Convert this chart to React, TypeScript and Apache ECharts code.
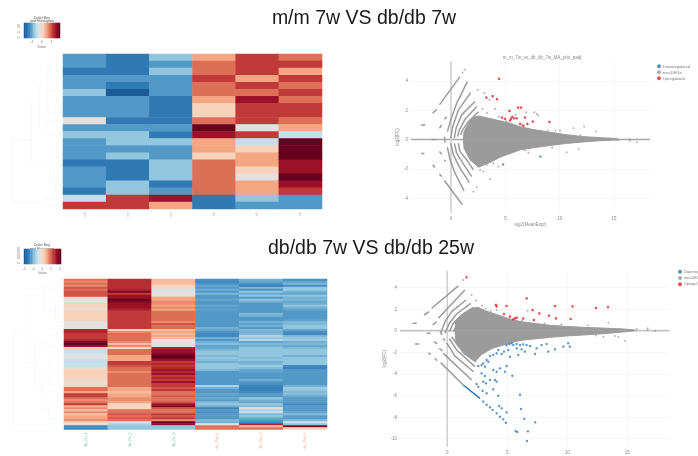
import React, { useEffect, useRef } from "react";
import * as echarts from "echarts";

const palette = ["#1c5a99", "#2f79b5", "#5299c7", "#92c5de", "#c5deec", "#e3e1df", "#f9d2bb", "#f4a582", "#de6f57", "#c13a3a", "#9c1127", "#67001f"];
const keyValues = [0, 0.5, 1, 1.5, 2, 2.5, 3, 3.5, 4, 4.5, 5, 5.5, 6, 6.5, 7, 7.5, 8, 8.5, 9, 9.5, 10, 10.5, 11];

const heat1Samples = ["m1", "m2", "m3", "d1", "d2", "d3"];
const heat1Columns = [
  [2, 2, 1, 2, 2, 3, 2, 2, 2, 5, 2, 3, 2, 2, 2, 1, 2, 2, 2, 1, 4, 9],
  [1, 1, 1, 2, 1, 0, 2, 2, 2, 1, 2, 3, 3, 2, 3, 1, 1, 1, 3, 3, 9, 9],
  [3, 2, 3, 2, 2, 2, 1, 1, 1, 1, 2, 1, 3, 2, 2, 3, 3, 3, 1, 2, 10, 7],
  [7, 8, 8, 9, 8, 8, 7, 6, 6, 8, 11, 10, 7, 7, 6, 8, 8, 8, 8, 8, 1, 1],
  [9, 9, 9, 7, 9, 8, 10, 9, 9, 9, 5, 9, 4, 6, 7, 7, 6, 5, 7, 7, 3, 2],
  [8, 9, 7, 9, 8, 9, 8, 9, 9, 8, 7, 4, 11, 11, 11, 10, 10, 11, 10, 9, 2, 2],
];

const heat2Samples = ["db_7w_1", "db_7w_2", "db_7w_3", "db_25w_1", "db_25w_2", "db_25w_3"];
const heat2Columns = [
  [8,7.5,8,7.5,8.5,8,8.5,8.5,8.5,5.5, 5,5,6,6,5.5,5.5,6,6,6,6, 6,5,5,5,5,9.5,9.5,9,9,9, 9.5,10.5,11,10,6,4,4,4.5,5,5, 4,4,4,4,5.5,6,6,6,6,6, 5.5,5.5,5.5,6,8,8,7,9,9,8, 7.5,8,9,7,7.5,6.5,7.5,6.5,7,7, 7.5,6,5,1.5,1.5],
  [9.3,9.3,9.3,9.3,9.3,9.5,10.5,9,10,10, 11,10.5,10,10,10,9.5,9,9,9,9, 9,9,9,9,9,6,7.5,8,8,8, 8,7.5,6.5,7.5,5.5,8,8,8,7,7, 7,9,9,8.5,8,8,7.5,8,8,8, 8,8,8,8,7,7,6.5,7,7,7.5, 7.5,7,6,6,6,8,8,8.5,8,8.5, 8,4.5,3.5,3,3],
  [6.5,6.5,6.5,6,5.5,4.5,5,5,5.5,7, 7,7.5,7.5,7,7.5,7,8,8,8,8, 8,7.5,8.5,8,8,6.5,7,6.5,7,6.5, 5,5,5,5,9.5,10,10,10.5,11,11, 10,9,9.5,9,9.5,10,9.5,10,9,9.5, 9,10,9,9,8.5,9,8,8,8.5,8, 8,8.5,10,10.5,8.5,8,8,9,8.5,9, 7.5,11,10,3,3],
  [1.7,1.5,1.8,2.3,2,2.5,2,2.7,2,2, 2.3,2,2,2.3,2,2.2,2,2,2,2, 2,2,2,2,2.5,2.3,1.8,1.5,1.5,2.5, 2,2.5,2.8,2.2,2.3,2.7,3,3,2.7,3, 2.8,2.5,3,3,3,2.7,2,2,2,2, 2,2,2,3.5,2.5,2,2,2.2,2,2.3, 2,2.7,3,2.5,1.3,2,1.7,2,2,1.8, 2.7,2.5,5,8,8],
  [2.5,2.3,1.8,1.2,2.7,1.8,3,2.3,3,2, 3,2.5,2,2,2,2,2,2.7,2.5,2, 2,2.5,2.2,2.5,2,2.7,2.5,2.7,3.5,3, 3.7,2.3,2.7,2.5,3,3,3,3,3,2.8, 3,2.5,2.7,3.2,2.8,2.3,2.2,2,2,2, 2.5,2,1.7,1.3,1.2,1.3,1.5,2,2,3, 2.5,2.2,3,2.7,5,3.5,4,2.7,3,2.3, 2,1.5,9.5,6.5,8],
  [1.7,2.2,2.7,1.7,3,3.2,2.5,2.3,3,2.5, 2.7,2.3,2.5,3,2.5,2.2,2,2,2,2, 2.2,2.7,2.7,3,3,2.3,1.7,1.5,2.7,3, 3.2,2.5,2.7,2.3,2.7,3,3,3,2.5,3, 3,3,3,1.5,1.3,2,2,2,2,2, 2,2,2,2.5,3.2,3,2.7,2.8,2.3,2, 2,2,1.5,2,2,2,2.2,2.7,2,2, 2.7,4,3,10.5,6],
];

const dendro1 = [
  [[38,420],[38,607]],[[38,420],[95,420]],[[38,607],[130,607]],[[130,597],[130,618]],[[130,597],[189,597]],[[130,618],[189,618]],
  [[95,300],[95,490]],[[95,300],[118,300]],[[95,490],[150,490]],[[118,250],[118,385]],[[118,250],[140,250]],[[118,385],[135,385]],
  [[135,365],[135,405]],[[135,365],[189,365]],[[135,405],[189,405]],[[140,200],[140,340]],[[140,200],[150,200]],[[140,340],[165,340]],
  [[150,180],[150,270]],[[150,180],[170,180]],[[150,270],[172,270]],[[170,172],[170,215]],[[170,172],[189,172]],[[170,215],[189,215]],
  [[172,236],[172,300]],[[172,236],[189,236]],[[172,300],[189,300]],[[165,320],[165,365]],[[165,320],[189,320]],
  [[150,440],[150,550]],[[150,440],[170,440]],[[150,550],[165,550]],[[170,425],[170,470]],[[170,425],[189,425]],[[170,470],[189,470]],
  [[165,500],[165,575]],[[165,500],[178,500]],[[165,575],[189,575]],[[178,490],[178,532]],[[178,490],[189,490]],[[178,532],[189,532]],
];
const dendro2 = [
  [[38,305],[38,585]],[[38,305],[78,305]],[[38,585],[150,585]],[[78,195],[78,400]],[[78,195],[130,195]],[[78,400],[105,400]],
  [[130,165],[130,245]],[[130,165],[150,165]],[[130,245],[165,245]],[[150,155],[150,180]],[[150,155],[190,155]],[[150,180],[190,180]],
  [[165,215],[165,275]],[[165,215],[190,215]],[[165,275],[190,275]],[[105,340],[105,480]],[[105,340],[140,340]],[[105,480],[125,480]],
  [[140,315],[140,350]],[[140,315],[190,315]],[[140,350],[190,350]],[[125,420],[125,540]],[[125,420],[150,420]],[[125,540],[145,540]],
  [[150,375],[150,465]],[[150,375],[190,375]],[[150,465],[172,465]],[[172,445],[172,490]],[[172,445],[190,445]],[[172,490],[190,490]],
  [[145,515],[145,565]],[[145,515],[190,515]],[[145,565],[190,565]],[[150,578],[150,592]],[[150,578],[190,578]],[[150,592],[190,592]],
  [[165,200],[190,200]],[[170,230],[190,230]],[[172,260],[190,260]],[[170,290],[190,290]],[[168,330],[190,330]],[[172,395],[190,395]],
  [[168,410],[190,410]],[[175,435],[190,435]],[[170,500],[190,500]],[[172,530],[190,530]],[[170,550],[190,550]],
];

const upCloud1 = [[1.13,0],[1.2,0.54],[1.6,1.11],[2.0,1.5],[2.52,1.61],[3.9,1.38],[5.43,1.11],[6.35,0.88],[7.58,0.68],[9.11,0.5],[10.64,0.33],[12.18,0.2],[13.71,0.13],[15.25,0.07],[15.4,0]];
const downCloud1 = [[1.13,0],[1.2,-0.59],[1.75,-1.38],[2.52,-1.88],[3.59,-1.56],[4.51,-1.2],[6.35,-0.7],[7.58,-0.56],[9.11,-0.4],[10.64,-0.26],[12.18,-0.16],[13.71,-0.08],[15.4,-0.02]];
const streaks1 = [
  [[-1.69,1.79],[-1.32,2.06]],[[-1.07,2.36],[0.83,4.29]],[[-1.07,0.77],[-0.86,1.0]],[[-0.61,1.38],[-0.4,1.56]],
  [[-0.33,0.54],[-0.03,1.34],[0.52,2.47],[1.5,3.95]],
  [[-0.03,0.09],[0.15,0.88],[0.68,2.02],[1.81,3.2]],
  [[0.3,0.09],[0.46,0.77],[0.98,1.68],[2.2,2.59]],
  [[0.61,0.2],[0.77,0.66],[1.29,1.38],[2.36,2.24]],
  [[0.89,0.32],[1.07,0.66],[1.6,1.22],[2.52,1.9]],
  [[-1.69,-1.72],[-1.47,-1.9]],[[-1.07,-2.34],[-0.86,-2.52]],[[-0.61,-2.79],[1.04,-4.44]],
  [[-1.07,-0.82],[-0.86,-1.0]],[[-0.61,-1.38],[-0.49,-1.5]],
  [[-0.33,-0.52],[-0.09,-1.38],[0.37,-2.29],[1.2,-3.49]],
  [[-0.03,-0.25],[0.22,-1.04],[0.83,-1.95],[1.69,-2.93]],
  [[0.3,-0.25],[0.52,-0.93],[1.13,-1.66],[1.9,-2.52]],
  [[0.68,-0.25],[0.83,-0.82],[1.44,-1.38],[2.06,-2.06]],
  [[-2.76,1.0],[-2.36,1.0]],[[-2.76,-0.95],[-2.45,-0.95]],[[-1.78,0],[-1.38,0]],[[-0.6,0.2],[-0.55,-0.2]],
];
const up1 = [[4.42,4.14],[3.25,2.86],[3.83,2.95],[4.23,2.75],[5.37,1.95],[6.17,2.18],[6.44,2.18],[4.69,1.5],[4.97,1.41],[5.64,1.55],[5.52,1.43],[5.43,1.3],[5.8,1.45],[6.04,1.45],[6.81,1.5],[7.52,1.23],[7.02,1.07],[6.35,1.07],[6.66,0.95],[9.05,1.2]];
const down1 = [[4.79,-1.7],[8.22,-1.16]];
const gray1 = [[1.29,4.75],[1.07,4.57],[2.45,3.39],[3.07,3.16],[3.53,2.7],[4.05,2.09],[5.95,1.68],[7.67,1.86],[7.88,1.75],[8.04,1.64],[6.9,1.86],[12.24,0.89],[11.26,0.77],[10.03,0.61],[13.31,0.55],[10.64,-0.86],[11.72,-0.66],[7.12,-0.89],[3.59,-2.7],[2.06,-3.55],[2.36,-3.25],[15.4,-0.02],[16.47,-0.07],[17.09,-0.18],[16.4,0.02],[3.9,-1.61],[4.36,-1.84],[2.98,-2.18],[2.67,-2.07],[3.28,-1.73],[3.3,1.8],[2.9,2.1],[4.4,1.55],[5.1,1.25],[6.5,1.0],[9.6,0.62],[8.9,0.6],[11.9,0.3],[5.4,-0.95],[6.8,-0.72],[9.3,-0.55]];

const upCloud2 = [[0.64,0],[0.72,0.99],[1.33,1.6],[2.03,2.07],[2.58,2.16],[3.14,1.85],[4.11,1.5],[5,1.15],[6.06,0.85],[7.17,0.68],[8.56,0.5],[9.94,0.39],[11.33,0.31],[12.72,0.25],[14.11,0.19],[15.5,0.09],[15.72,0]];
const downCloud2 = [[0.64,0],[0.72,-1.02],[1.33,-2.1],[2.31,-2.87],[2.86,-2.2],[3.83,-1.6],[5.22,-1.15],[6.06,-0.9],[8.56,-0.62],[9.94,-0.49],[11.33,-0.4],[13,-0.28],[14.67,-0.12],[15.72,0]];
const streaks2 = [
  [[-1.94,1.45],[-1.5,1.76]],[[-1.3,2.07],[0.92,4.14]],[[-1.22,0.52],[-0.89,0.83]],[[-0.75,1.14],[1.47,3.77]],
  [[-0.55,-0.25],[-0.19,0.83],[0.36,1.76],[1.56,2.84]],
  [[-0.19,-0.25],[0.17,0.68],[0.78,1.54],[1.95,2.53]],
  [[0.17,-0.09],[0.5,0.68],[1.06,1.3],[2.17,2.16]],
  [[0.5,-0.09],[0.78,0.52],[1.48,1.05],[2.39,1.76]],
  [[-2.89,0.68],[-2.55,0.68]],[[-2.69,-1.23],[-2.33,-1.23]],[[-1.72,-0.25],[-1.39,-0.25]],
  [[-1.58,-2.04],[-1.39,-2.22]],[[-0.67,-1.64],[-0.39,-1.88]],[[-1.11,-1.02],[-0.83,-1.23]],[[-0.33,-0.71],[-0.19,-0.93]],[[-0.61,-0.09],[-0.42,-0.4]],
  [[-1.04,-2.56],[-0.85,-2.78]],[[-0.55,-2.96],[1.33,-5.03]],[[-0.33,-2.1],[2.03,-4.57]],
  [[-0.06,-1.11],[0.64,-2.35],[2.2,-3.8]],[[0.17,-0.71],[0.78,-1.79],[2.31,-3.33]],[[0.36,-0.56],[0.99,-1.54],[2.39,-2.87]],
];
const blueStreak2 = [[[1.33,-5.03],[2.72,-6.27]]];
const up2 = [[4.06,2.38],[4.11,2.25],[4.94,2.28],[6.61,2.99],[4.72,1.54],[5.22,1.3],[5.64,1.14],[5.78,1.2],[5.5,1.05],[6.33,1.14],[7.11,1.91],[7.67,1.6],[8.47,1.39],[8.97,2.28],[9.06,1.14],[7.22,0.99],[10.44,2.25],[10.28,1.08],[12.39,2.1],[13.39,2.19],[1.61,4.94]];
const down2 = [[4.94,-1.33],[5.17,-1.23],[5.36,-1.17],[5.5,-1.33],[5.78,-1.23],[6.06,-1.33],[6.33,-1.27],[6.61,-1.33],[6.89,-1.42],[7.31,-2.16],[7.44,-1.64],[7.86,-1.33],[8.28,-1.23],[8.42,-1.94],[8.97,-1.73],[9.67,-1.48],[10.08,-1.17],[10.22,-1.48],[4.11,-2.1],[4.25,-1.79],[3.83,-2.25],[3.56,-2.35],[3.28,-2.72],[3,-3.02],[2.86,-3.18],[2.58,-3.27],[3.14,-3.33],[3.42,-2.87],[3.83,-3.64],[4.11,-3.8],[4.39,-3.49],[4.81,-3.8],[4.94,-3.27],[5.42,-4.17],[2.86,-3.95],[3.14,-4.2],[3,-4.72],[3.22,-4.88],[3.56,-4.57],[3.97,-4.57],[4.11,-4.72],[2.44,-4.94],[2.58,-5.19],[2.94,-5.56],[3.28,-5.8],[3.83,-5.43],[4.25,-6.02],[6.06,-5.93],[6.14,-7.25],[6.42,-8.15],[7.33,-8.49],[5.69,-9.29],[5.83,-9.38],[6.72,-9.32],[6.64,-10.22],[4.33,-6.98],[4.53,-7.19],[4.94,-7.56],[3,-6.57],[3.28,-6.85],[3.56,-7.1],[3.78,-7.35],[4.11,-7.65],[4.39,-7.96],[4.67,-8.21],[4.89,-8.52],[5.78,-1.64],[5.22,-2.41],[6.19,-1.73],[6.47,-1.94],[5.92,-2.25],[4.72,-1.94],[4.53,-2.16],[5.08,-1.79]];
const gray2 = [[1.33,4.69],[2.03,3.3],[2.39,2.78],[6.69,1.85],[3.61,1.82],[13.42,0.74],[14.81,-0.93],[13.97,-0.49],[14.25,-0.56],[13,-0.56],[16.69,0.22],[16.69,0.06],[17.31,-0.03],[15.78,0.15],[4.11,1.91],[2.9,2.3],[3.2,2.05],[6.2,0.95],[8.1,0.68],[9.5,0.6],[11.7,0.5],[12.4,-0.45]];

const ticksX = [0, 5, 10, 15];
const ticks1Y = [-4, -2, 0, 2, 4];
const ticks2Y = [-10, -8, -6, -4, -2, 0, 2, 4];
const legendNames = ["Downregulated", "non-DEGs", "Upregulated"];

const BLUE = "#2f78b8";
const RED = "#e0242f";
const GRAY = "#9b9b9b";

const px = (left: number, top: number, right: number, bottom: number) => ({
  left, top, width: right - left, height: bottom - top, containLabel: false,
});

const heatData = (cols: number[][]) =>
  cols.flatMap((col, x) => col.map((v, y) => [x, y, v]));

const withBreaks = (lines: number[][][]) =>
  lines.flatMap((l) => [...l, [null, null]]);

const heatAxes = (samples: string[], rows: number, gridIndex: number, colorA: string, colorB: string) => ({
  x: {
    type: "category", gridIndex, data: samples,
    axisLine: { show: false }, axisTick: { show: false }, splitLine: { show: false },
    axisLabel: {
      rotate: 90, fontSize: 3.5, margin: 3, fontFamily: "Liberation Sans",
      color: (_: any, i: number) => (i < 3 ? colorA : colorB),
    },
  },
  y: {
    type: "category", gridIndex, inverse: true, position: "right",
    data: Array.from({ length: rows }, (_, i) => String(i)),
    axisLine: { show: false }, axisLabel: { show: false },
    axisTick: { show: true, length: 2.5, alignWithLabel: true, lineStyle: { color: "#f0f0f0", width: 0.5 } },
    splitLine: { show: false },
  },
});

const maAxes = (gridIndex: number, xMin: number, xMax: number, yMin: number, yMax: number, yTicks: number[], xName: string, yName: string, yGap: number) => ({
  x: {
    type: "value", gridIndex, min: xMin, max: xMax, name: xName, nameLocation: "middle", nameGap: 8,
    nameTextStyle: { fontSize: 4.5, color: "#888888", fontFamily: "Liberation Sans" },
    axisLine: { show: false },
    axisTick: { show: false, customValues: ticksX },
    axisLabel: { customValues: ticksX, fontSize: 4.5, color: "#888888", margin: 3, fontFamily: "Liberation Sans" },
    splitLine: { show: true, lineStyle: { color: "#f2f2f2", width: 0.7 } },
  },
  y: {
    type: "value", gridIndex, min: yMin, max: yMax, name: yName, nameLocation: "middle", nameGap: yGap, nameRotate: 90,
    nameTextStyle: { fontSize: 4.5, color: "#888888", fontFamily: "Liberation Sans" },
    axisLine: { show: false },
    axisTick: { show: false, customValues: yTicks },
    axisLabel: { customValues: yTicks, fontSize: 4.5, color: "#888888", margin: 3, fontFamily: "Liberation Sans" },
    splitLine: { show: true, lineStyle: { color: "#f2f2f2", width: 0.7 } },
  },
});

const hiddenValue = (gridIndex: number, min: number, max: number, inverse = false) => ({
  type: "value", gridIndex, min, max, inverse, show: false,
});

const keyAxes = (gridIndex: number) => ({
  x: { type: "category", gridIndex, data: keyValues.map(String), show: false },
  y: { type: "category", gridIndex, data: ["key"], show: false },
});

const tinyText = (x: number, y: number, text: string, extra: any = {}) => ({
  type: "text", x, y,
  style: { text, fontSize: 3.5, fill: "#777777", fontFamily: "Liberation Sans", align: "center", verticalAlign: "middle", ...extra.style },
  rotation: extra.rotation ?? 0,
});

const maSeries = (xy: number, up: number[][], down: number[][], streaks: number[][][], upPts: number[][], downPts: number[][], grayPts: number[][], xMin: number, xMax: number, yMin: number, yMax: number, hColor: string) => {
  const shared = { xAxisIndex: xy, yAxisIndex: xy, silent: true, symbol: "none" };
  return [
    { ...shared, type: "line", name: "zero lines", data: withBreaks([[[xMin, 0], [xMax, 0]]]), lineStyle: { color: hColor, width: 1.6 }, z: 1 },
    { ...shared, type: "line", name: "zero lines", data: withBreaks([[[0, yMin], [0, yMax]]]), lineStyle: { color: "#cfcfcf", width: 1.5 }, z: 1 },
    { ...shared, type: "line", name: "cloud up", data: up, lineStyle: { color: GRAY, width: 1 }, areaStyle: { color: GRAY, opacity: 1 }, z: 2 },
    { ...shared, type: "line", name: "cloud down", data: down, lineStyle: { color: GRAY, width: 1 }, areaStyle: { color: GRAY, opacity: 1 }, z: 2 },
    { ...shared, type: "line", name: "streaks", data: withBreaks(streaks), lineStyle: { color: GRAY, width: 1.5 }, z: 2 },
    { type: "scatter", name: "non-DEGs", xAxisIndex: xy, yAxisIndex: xy, data: grayPts, symbolSize: 1.8, itemStyle: { color: GRAY }, z: 3 },
    { type: "scatter", name: "Downregulated", xAxisIndex: xy, yAxisIndex: xy, data: downPts, symbolSize: 2.4, itemStyle: { color: BLUE }, z: 4 },
    { type: "scatter", name: "Upregulated", xAxisIndex: xy, yAxisIndex: xy, data: upPts, symbolSize: 2.6, itemStyle: { color: RED }, z: 4 },
  ];
};

export default function App() {
  const ref = useRef<HTMLDivElement>(null);
  useEffect(() => {
    document.body.style.margin = "0";
    const chart = echarts.init(ref.current!, null, { renderer: "svg" });

    const h1 = heatAxes(heat1Samples, 22, 0, "#a8b8c4", "#f0a078");
    const h2 = heatAxes(heat2Samples, 75, 1, "#66c2a5", "#f4a582");
    const m1 = maAxes(2, -3.68, 18.3, -5, 5.35, ticks1Y, "log2(MeanExpr)", "log2(FC)", 11);
    const m2 = maAxes(3, -3.94, 18.5, -10.74, 5.55, ticks2Y, "", "log2(FC)", 11);
    const k1 = keyAxes(4);
    const k2 = keyAxes(5);
    const titleStyle = { fontSize: 19.5, fontWeight: "normal", color: "#1a1a1a", fontFamily: "Liberation Sans" };

    const option: any = {
      animation: false,
      backgroundColor: "#ffffff",
      title: [
        { text: "m/m 7w VS db/db 7w", left: 364, top: 7, padding: 0, textAlign: "center", textStyle: titleStyle },
        { text: "db/db 7w VS db/db 25w", left: 371, top: 236.7, padding: 0, textAlign: "center", textStyle: titleStyle },
        { text: "m_m_7w_vs_db_db_7w_MA_plot_padj", left: 542, top: 54.5, padding: 0, textAlign: "center", textStyle: { fontSize: 4.5, fontWeight: "normal", color: "#888888", fontFamily: "Liberation Sans" } },
      ],
      grid: [
        px(63, 54, 322, 209),
        px(64, 279, 327, 429.5),
        px(411, 61, 650, 213),
        px(400, 270.7, 669.3, 446.7),
        px(24, 23, 60, 38),
        px(24, 249, 61, 264),
        px(12.7, 54, 63, 209),
        px(12.7, 279, 64, 429.5),
      ],
      xAxis: [h1.x, h2.x, m1.x, m2.x, k1.x, k2.x, hiddenValue(6, 38, 189), hiddenValue(7, 38, 190)],
      yAxis: [h1.y, h2.y, m1.y, m2.y, k1.y, k2.y, hiddenValue(6, 162, 628, true), hiddenValue(7, 148, 598, true)],
      visualMap: {
        show: false, type: "continuous", min: 0, max: 11, dimension: 2,
        seriesIndex: [0, 1, 2, 3], inRange: { color: palette },
      },
      legend: [
        { data: legendNames, orient: "vertical", left: 657, top: 64.3, padding: 0, itemWidth: 4, itemHeight: 4, itemGap: 2, icon: "circle", selectedMode: false, textStyle: { fontSize: 4, color: "#777777", padding: [0, 0, 0, -3], fontFamily: "Liberation Sans" } },
        { data: legendNames, orient: "vertical", left: 678, top: 269.7, padding: 0, itemWidth: 4, itemHeight: 4, itemGap: 2.3, icon: "circle", selectedMode: false, formatter: (n: string) => n.slice(0, 7), textStyle: { fontSize: 3.8, color: "#777777", padding: [0, 0, 0, -3], fontFamily: "Liberation Sans" } },
      ],
      series: [
        { type: "heatmap", name: "heat1", xAxisIndex: 0, yAxisIndex: 0, data: heatData(heat1Columns), progressive: 0 },
        { type: "heatmap", name: "heat2", xAxisIndex: 1, yAxisIndex: 1, data: heatData(heat2Columns), progressive: 0 },
        { type: "heatmap", name: "key1", xAxisIndex: 4, yAxisIndex: 4, data: keyValues.map((v, i) => [i, 0, v]) },
        { type: "heatmap", name: "key2", xAxisIndex: 5, yAxisIndex: 5, data: keyValues.map((v, i) => [i, 0, v]) },
        { type: "line", name: "dendrogram1", xAxisIndex: 6, yAxisIndex: 6, symbol: "none", silent: true, data: withBreaks(dendro1), lineStyle: { color: "#f0f0f0", width: 0.5 } },
        { type: "line", name: "dendrogram2", xAxisIndex: 7, yAxisIndex: 7, symbol: "none", silent: true, data: withBreaks(dendro2), lineStyle: { color: "#f2f2f2", width: 0.5 } },
        ...maSeries(2, upCloud1, downCloud1, streaks1, up1, down1, gray1, -3.68, 18.3, -5, 5.35, "#a8a8a8"),
        ...maSeries(3, upCloud2, downCloud2, streaks2, up2, down2, gray2, -3.94, 18.5, -10.74, 5.55, "#c4c4c4"),
        { type: "line", name: "blue streak", xAxisIndex: 3, yAxisIndex: 3, symbol: "none", silent: true, data: withBreaks(blueStreak2), lineStyle: { color: BLUE, width: 1.5 }, z: 4 },
      ],
      graphic: [
        tinyText(42, 17.5, "Color Key", { style: { fontWeight: "bold" } }),
        tinyText(42, 21.3, "and Histogram", { style: { fontWeight: "bold" } }),
        tinyText(32, 42, "-1"), tinyText(41.7, 42, "0"), tinyText(51.7, 42, "1"),
        tinyText(41.7, 47, "Value"),
        tinyText(19, 26, "10", { rotation: Math.PI / 2 }), tinyText(19, 32, "5", { rotation: Math.PI / 2 }), tinyText(19, 37.5, "0", { rotation: Math.PI / 2 }),
        tinyText(42, 245, "Color Key", { style: { fontWeight: "bold" } }),
        tinyText(42, 248.6, "and Histogram", { style: { fontWeight: "bold" } }),
        tinyText(24.3, 268.5, "-2"), tinyText(33.3, 268.5, "-1"), tinyText(42.3, 268.5, "0"), tinyText(51, 268.5, "1"), tinyText(60, 268.5, "2"),
        tinyText(42.3, 273, "Value"),
        tinyText(19, 250, "200", { rotation: Math.PI / 2 }), tinyText(19, 256, "100", { rotation: Math.PI / 2 }), tinyText(19, 263, "0", { rotation: Math.PI / 2 }),
      ],
    };
    chart.setOption(option);
    return () => chart.dispose();
  }, []);
  return <div ref={ref} style={{ position: "absolute", left: 0, top: 0, width: 698, height: 456, filter: "blur(0.5px)" }} />;
}
